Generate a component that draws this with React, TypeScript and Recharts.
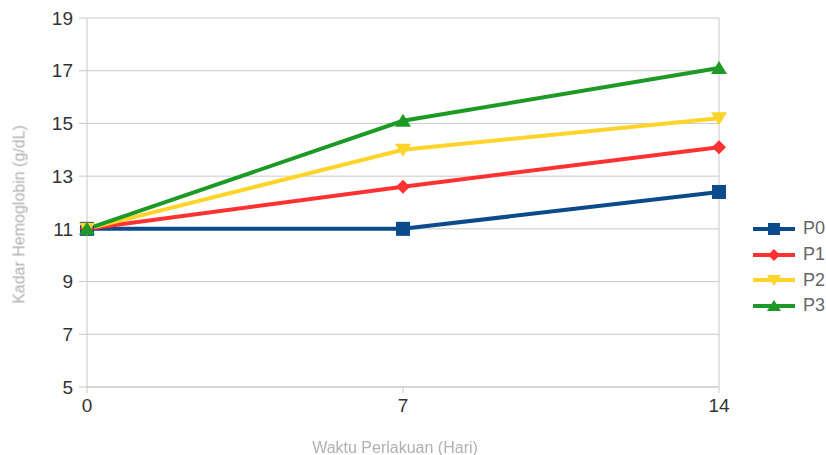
import { CartesianGrid, Line, LineChart, ReferenceLine, XAxis, YAxis } from "recharts";

const FONT = '"Liberation Sans", Arial, sans-serif';
const GRID = "#c9c9c9";
const TICK_TEXT = "#333333";
const TITLE_TEXT = "#b0b0b0";

const days = [0, 7, 14];
const p0 = [11, 11, 12.4];
const p1 = [11, 12.6, 14.1];
const p2 = [11, 14.0, 15.2];
const p3 = [11, 15.1, 17.1];
const yTicks = [5, 7, 9, 11, 13, 15, 17, 19];

type Shape = "square" | "diamond" | "down" | "up";

const series: { key: string; name: string; color: string; shape: Shape }[] = [
  { key: "p0", name: "P0", color: "#0b4a8b", shape: "square" },
  { key: "p1", name: "P1", color: "#ff3131", shape: "diamond" },
  { key: "p2", name: "P2", color: "#ffd42a", shape: "down" },
  { key: "p3", name: "P3", color: "#1d9a26", shape: "up" },
];

const data = days.map((d, i) => ({ day: d, p0: p0[i], p1: p1[i], p2: p2[i], p3: p3[i] }));

function marker(shape: Shape, cx: number, cy: number, color: string, s = 7) {
  switch (shape) {
    case "square":
      return <rect x={cx - s} y={cy - s} width={s * 2} height={s * 2} fill={color} />;
    case "diamond":
      return <polygon points={`${cx},${cy - s} ${cx + s},${cy} ${cx},${cy + s} ${cx - s},${cy}`} fill={color} />;
    case "down":
      return <polygon points={`${cx - s - 1},${cy - s + 1} ${cx + s + 1},${cy - s + 1} ${cx},${cy + s}`} fill={color} />;
    case "up":
      return <polygon points={`${cx - s - 1},${cy + s - 1} ${cx + s + 1},${cy + s - 1} ${cx},${cy - s}`} fill={color} />;
  }
}

function makeDot(shape: Shape, color: string) {
  return (props: { cx?: number; cy?: number; index?: number }) => {
    const { cx = 0, cy = 0, index } = props;
    return <g key={`${shape}-${index}`}>{marker(shape, cx, cy, color)}</g>;
  };
}

// legend sits to the right of the plot, outside the chart's layout
function SideLegend() {
  return (
    <div style={{ position: "absolute", left: 753, top: 216, fontFamily: FONT }}>
      {series.map((s) => (
        <div key={s.key} style={{ display: "flex", alignItems: "center", height: 25.7 }}>
          <svg width={44} height={20}>
            <line x1={0} y1={10} x2={42} y2={10} stroke={s.color} strokeWidth={4} />
            {marker(s.shape, 21, 10, s.color, 6)}
          </svg>
          <span style={{ fontSize: 18, color: "#666666", marginLeft: 6 }}>{s.name}</span>
        </div>
      ))}
    </div>
  );
}

export default function App() {
  return (
    <div style={{ position: "absolute", left: 0, top: 0, width: 826, height: 455, background: "#fff" }}>
      <LineChart width={826} height={455} data={data} margin={{ top: 18, right: 107, bottom: 0, left: 0 }}>
        <CartesianGrid vertical={false} stroke={GRID} strokeWidth={1} />
        <XAxis
          dataKey="day"
          type="number"
          domain={[0, 14]}
          ticks={days}
          height={68}
          tickSize={6}
          tickMargin={6}
          tick={{ fontSize: 19, fill: TICK_TEXT, fontFamily: FONT }}
          axisLine={{ stroke: GRID }}
          tickLine={{ stroke: GRID }}
          label={{
            value: "Waktu Perlakuan (Hari)",
            position: "insideBottom",
            offset: 2,
            dx: -8,
            style: { fontSize: 16, fill: TITLE_TEXT, fontFamily: FONT, filter: "blur(0.6px)" },
          }}
        />
        <YAxis
          domain={[5, 19]}
          ticks={yTicks}
          width={87}
          tickSize={8}
          tickMargin={6}
          tick={{ fontSize: 19, fill: TICK_TEXT, fontFamily: FONT }}
          axisLine={{ stroke: GRID }}
          tickLine={{ stroke: GRID }}
          label={{
            value: "Kadar Hemoglobin (g/dL)",
            angle: -90,
            position: "insideLeft",
            offset: 19,
            dy: 12,
            style: { fontSize: 16, fill: TITLE_TEXT, fontFamily: FONT, textAnchor: "middle", filter: "blur(0.6px)" },
          }}
        />
        <ReferenceLine x={14} stroke={GRID} strokeWidth={1} />
        {series.map((s) => (
          <Line
            key={s.key}
            dataKey={s.key}
            name={s.name}
            stroke={s.color}
            strokeWidth={4}
            dot={makeDot(s.shape, s.color)}
            activeDot={false}
            isAnimationActive={false}
          />
        ))}
      </LineChart>
      <SideLegend />
    </div>
  );
}
